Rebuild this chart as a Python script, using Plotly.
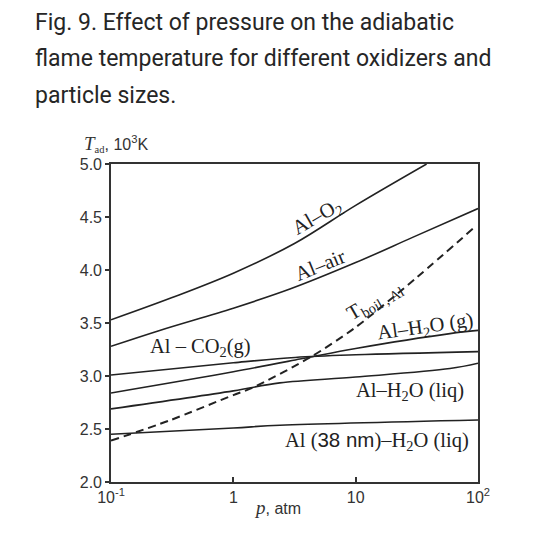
import plotly.graph_objects as go

# ---- data ----
p_o2 = [0.1, 0.316, 1, 3.16, 10, 38]
T_o2 = [3.53, 3.74, 3.97, 4.25, 4.61, 5.0]

p_air = [0.1, 0.25, 1, 2.9, 10, 29.5, 100]
T_air = [3.28, 3.43, 3.64, 3.82, 4.07, 4.31, 4.58]

p_co2 = [0.1, 1, 3.2, 10, 100]
T_co2 = [3.01, 3.125, 3.175, 3.20, 3.23]

p_h2og = [0.1, 1, 3.5, 4.3, 10, 59, 100]
T_h2og = [2.84, 3.04, 3.16, 3.18, 3.26, 3.40, 3.43]

p_h2ol = [0.1, 1, 2.4, 10, 59, 100]
T_h2ol = [2.69, 2.86, 2.935, 2.99, 3.07, 3.12]

p_38 = [0.1, 1, 2.4, 100]
T_38 = [2.45, 2.51, 2.535, 2.585]

p_boil = [0.1, 0.3, 1, 1.41, 4.3, 10, 31.6, 93]
T_boil = [2.39, 2.58, 2.82, 2.885, 3.18, 3.46, 3.93, 4.40]

x_ticks = [0.1, 1, 10, 100]
x_ticktext = ["10<sup>-1</sup>", "1", "10", "10<sup>2</sup>"]
y_ticks = [2.0, 2.5, 3.0, 3.5, 4.0, 4.5, 5.0]
y_ticktext = ["2.0", "2.5", "3.0", "3.5", "4.0", "4.5", "5.0"]

title_lines = [
    "Fig. 9. Effect of pressure on the adiabatic",
    "flame temperature for different oxidizers and",
    "particle sizes.",
]

# ---- layout helpers (pixel -> paper) ----
L, R, TOP, B = 111, 478, 163.5, 482
W, H = 560, 535


def px(x):
    return (x - L) / (R - L)


def py(y):
    return (B - y) / (B - TOP)


LINE = "#222222"
SERIF = "Liberation Serif"
SANS = "Liberation Sans"

fig = go.Figure()

solid = [(p_o2, T_o2), (p_air, T_air), (p_co2, T_co2), (p_h2og, T_h2og),
         (p_h2ol, T_h2ol), (p_38, T_38)]
for xs, ys in solid:
    fig.add_trace(go.Scatter(x=xs, y=ys, mode="lines",
                             line=dict(color=LINE, width=1.6, shape="spline", smoothing=1.0),
                             showlegend=False, hoverinfo="skip"))

fig.add_trace(go.Scatter(x=p_boil, y=T_boil, mode="lines",
                         line=dict(color=LINE, width=2, dash="8px,5px", shape="spline", smoothing=0.8),
                         showlegend=False, hoverinfo="skip"))

ann = []
for txt, yc in zip(title_lines, [21.5, 58, 94.5]):
    ann.append(dict(text=txt, x=px(33), y=py(yc), xref="paper", yref="paper",
                    xanchor="left", yanchor="middle", showarrow=False,
                    font=dict(family="Roboto", size=23, color="#262626")))

lab_font = dict(family=SERIF, size=20.5, color="#222222")
labels = [
    ("Al–O<sub>2</sub>", 317, 217, -30),
    ("Al–air", 320, 265, -22),
    ("T<sub>boil , Al</sub>", 374, 301, -30),
    ("Al–H<sub>2</sub>O (g)", 425, 327, -8),
    ("Al – CO<sub>2</sub>(g)", 200, 347, 0),
    ("Al–H<sub>2</sub>O (liq)", 410, 391, 0),
    ("Al (<span style='font-family:Liberation Sans'>38 nm</span>)–H<sub>2</sub>O (liq)", 377, 441, 0),
]
for txt, x, y, a in labels:
    ann.append(dict(text=txt, x=px(x), y=py(y), xref="paper", yref="paper",
                    xanchor="center", yanchor="middle", showarrow=False,
                    textangle=a, font=lab_font))

ann.append(dict(text="<span style='font-family:Liberation Serif;font-size:19px'><i>T</i></span>"
                     "<span style='font-family:Liberation Serif;font-size:15px'><sub>ad</sub></span>"
                     ", 10<sup>3</sup>K",
                x=px(82), y=py(143.5), xref="paper", yref="paper",
                xanchor="left", yanchor="middle", showarrow=False,
                font=dict(family=SANS, size=16, color="#333333")))
ann.append(dict(text="<span style='font-family:Liberation Serif;font-size:19px'><i>p</i></span>, atm",
                x=px(277), y=py(508), xref="paper", yref="paper",
                xanchor="center", yanchor="middle", showarrow=False,
                font=dict(family=SANS, size=16, color="#333333")))

fig.update_layout(
    width=W, height=H,
    margin=dict(l=L, r=W - R, t=TOP, b=H - B),
    paper_bgcolor="white", plot_bgcolor="white",
    showlegend=False,
    annotations=ann,
    xaxis=dict(type="log", range=[-1, 2], tickvals=x_ticks, ticktext=x_ticktext,
               ticks="inside", ticklen=5, tickwidth=1.5, tickcolor="#333333",
               showline=True, mirror=True, linecolor="#333333", linewidth=1.6,
               showgrid=False, zeroline=False,
               tickfont=dict(family=SANS, size=16, color="#333333")),
    yaxis=dict(range=[2, 5], tickvals=y_ticks, ticktext=y_ticktext,
               ticks="outside", ticklen=4, tickwidth=1.5, tickcolor="#333333",
               showline=True, mirror=True, linecolor="#333333", linewidth=1.6,
               showgrid=False, zeroline=False,
               tickfont=dict(family=SANS, size=16, color="#333333")),
)

fig.write_html("out.html")
